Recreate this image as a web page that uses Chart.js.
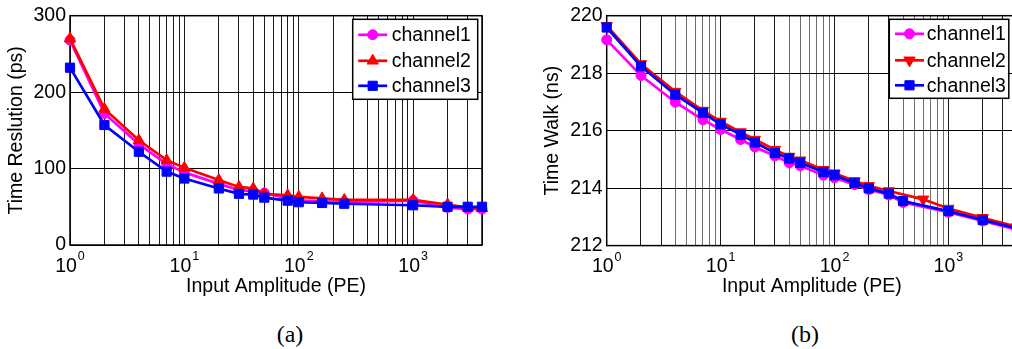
<!DOCTYPE html>
<html><head><meta charset="utf-8">
<script src="https://cdn.jsdelivr.net/npm/chart.js@4.4.0/dist/chart.umd.min.js"></script>
<style>
html,body{margin:0;padding:0;background:#fff;overflow:hidden;width:1012px;height:349px;}
#wrap{position:relative;width:1012px;height:349px;overflow:hidden;background:#fff;}
canvas{position:absolute;top:0;}
.lab{position:absolute;font-family:'Liberation Serif','Times New Roman',serif;font-size:24px;color:#000;transform:translate(-50%,-50%);white-space:nowrap;}
</style></head><body>
<div id="wrap">
<canvas id="ca" width="506" height="300" style="left:0;width:506px;height:300px"></canvas>
<canvas id="cb" width="500" height="300" style="left:530px;width:500px;height:300px"></canvas>
<div class="lab" style="left:290px;top:334px">(a)</div>
<div class="lab" style="left:805px;top:334px">(b)</div>
</div>
<script>
// ---- data: panel (a) time resolution ----
const xA = [1, 2, 4, 7, 10, 20, 30, 40, 50, 80, 100, 160, 250, 1000, 2000, 3000, 4000];
const resCh1 = [268, 172, 132, 106, 95, 80, 72, 70, 68, 61, 58, 57, 56, 58, 49, 47, 47];
const resCh2 = [270, 178, 137, 111, 101, 85, 76, 74, 67, 65, 63, 61, 59, 59, 53, 49, 48];
const resCh3 = [232, 157, 122, 96, 87, 74, 67, 66, 62, 58, 56, 55, 54, 52, 50, 50, 50];

// ---- data: panel (b) time walk ----
const xB13 = [1, 2, 4, 7, 10, 15, 20, 30, 40, 50, 80, 100, 150, 200, 300, 400, 1000, 2000, 4000];
const xB2  = [1, 2, 4, 7, 10, 15, 20, 30, 40, 50, 80, 100, 150, 200, 300, 600, 1000, 2000, 4000];
const walkCh1 = [219.16, 217.92, 216.99, 216.38, 216.04, 215.69, 215.43, 215.12, 214.88, 214.78, 214.45, 214.36, 214.12, 213.95, 213.76, 213.50, 213.16, 212.86, 212.55];
const walkCh2 = [219.65, 218.32, 217.36, 216.70, 216.32, 215.95, 215.69, 215.34, 215.10, 214.97, 214.64, 214.52, 214.25, 214.08, 213.90, 213.61, 213.29, 212.97, 212.65];
const walkCh3 = [219.59, 218.24, 217.25, 216.62, 216.22, 215.86, 215.59, 215.22, 215.03, 214.88, 214.56, 214.45, 214.18, 213.99, 213.81, 213.55, 213.20, 212.89, 212.60];

// ---- tick labels ----
const xTickValues = [1,2,3,4,5,6,7,8,9,10,20,30,40,50,60,70,80,90,100,200,300,400,500,600,700,800,900,1000,2000,3000,4000];
const xTickPowers = [0, 1, 2, 3];
const seriesNames = ['channel1', 'channel2', 'channel3'];

const FONT = "'Liberation Sans', Arial, Helvetica, sans-serif";
const FS = 19.5;

function pts(xs, ys) { return xs.map((x, i) => ({ x: x, y: ys[i] })); }

const framePlugin = {
  id: 'frame',
  beforeDatasetsDraw(chart) {
    const { ctx, chartArea: a } = chart;
    ctx.save();
    ctx.strokeStyle = '#000';
    ctx.lineWidth = 1.5;
    ctx.strokeRect(a.left, a.top, a.right - a.left, a.bottom - a.top);
    ctx.restore();
  },
  afterDraw(chart, args, opts) {
    const ctx = chart.ctx, xs = chart.scales.x, a = chart.chartArea;
    ctx.save();
    ctx.fillStyle = '#000';
    ctx.textBaseline = 'alphabetic';
    ctx.textAlign = 'left';
    xTickPowers.forEach(p => {
      const px = xs.getPixelForValue(Math.pow(10, p));
      ctx.font = FS + 'px ' + FONT; const w1 = ctx.measureText('10').width;
      ctx.font = '12.5px ' + FONT; const w2 = ctx.measureText(String(p)).width;
      const start = px - (w1 + w2 + 1) / 2;
      ctx.font = FS + 'px ' + FONT; ctx.fillText('10', start, a.bottom + 26.7);
      ctx.font = '12.5px ' + FONT; ctx.fillText(String(p), start + w1 + 1, a.bottom + 15);
    });
    // legend box
    const L = opts.legend;
    const bx = L.left, by = L.top;
    ctx.fillStyle = '#fff';
    ctx.fillRect(bx, by, L.w, L.h);
    ctx.strokeStyle = '#000';
    ctx.lineWidth = 1.5;
    ctx.strokeRect(bx, by, L.w, L.h);
    chart.data.datasets.forEach((ds, i) => {
      const y = by + L.rows[i];
      ctx.strokeStyle = ds.borderColor;
      ctx.fillStyle = ds.backgroundColor;
      ctx.lineWidth = ds.borderWidth;
      ctx.beginPath();
      ctx.moveTo(bx + L.x0, y);
      ctx.lineTo(bx + L.x1, y);
      ctx.stroke();
      ctx.lineWidth = 1;
      Chart.helpers.drawPoint(ctx, { pointStyle: ds.pointStyle, rotation: ds.pointRotation || 0, radius: ds.pointRadius, borderWidth: 1 }, bx + (L.x0 + L.x1) / 2, y);
      ctx.fillStyle = '#000';
      ctx.font = FS + 'px ' + FONT;
      ctx.textBaseline = 'middle';
      ctx.fillText(ds.label, bx + L.tx, y + 1);
    });
    ctx.restore();
  }
};

function mkDs(label, data, color, style, radius, rot, order) {
  return {
    label: label, data: data, borderColor: color, backgroundColor: color,
    pointStyle: style, pointRadius: radius, pointRotation: rot, pointBorderWidth: 1,
    pointBackgroundColor: color, pointBorderColor: color,
    borderWidth: 2.7, tension: 0, order: order, clip: false, showLine: true
  };
}

function makeChart(id, p) {
  return new Chart(document.getElementById(id), {
    type: 'line',
    data: { datasets: p.datasets },
    plugins: [framePlugin],
    options: {
      responsive: false, animation: false, devicePixelRatio: 1,
      layout: { padding: { left: 0, right: p.padRight, top: 15, bottom: 0 } },
      plugins: { legend: { display: false }, tooltip: { enabled: false }, frame: { legend: p.legend } },
      scales: {
        x: {
          type: 'logarithmic', min: 1, max: 4000,
          afterBuildTicks: (s) => { s.ticks = xTickValues.map(v => ({ value: v })); },
          afterFit: (s) => { s.height = p.xAxisH; },
          ticks: { display: false },
          border: { display: false },
          grid: { color: p.xGridColor, lineWidth: 1, drawTicks: false },
          title: { display: true, text: 'Input Amplitude (PE)', color: '#000', font: { family: FONT, size: FS }, padding: { top: 0, bottom: 1.6 } }
        },
        y: {
          type: 'linear', min: p.yMin, max: p.yMax,
          afterFit: (s) => { s.width = p.yAxisW; },
          ticks: { stepSize: p.yStep, color: '#000', font: { family: FONT, size: FS }, padding: 4 },
          border: { display: false },
          grid: { color: '#000', lineWidth: 1, drawTicks: false },
          title: { display: true, text: p.yTitle, color: '#000', font: { family: FONT, size: FS }, padding: { top: p.yTitlePad, bottom: 0 } }
        }
      }
    }
  });
}

const mant = (v) => Math.round(v / Math.pow(10, Math.floor(Math.log10(v) + 1e-9)));

makeChart('ca', {
  padRight: 24, xAxisH: 55, yAxisW: 70, yMin: 0, yMax: 300, yStep: 100,
  yTitle: 'Time Reslution (ps)', yTitlePad: 5.3,
  xGridColor: '#1a1a1a',
  legend: { left: 352.7, top: 19.3, w: 125, h: 80, rows: [15.5, 41.5, 66.5], x0: 5.5, x1: 34.5, tx: 39 },
  datasets: [
    mkDs(seriesNames[0], pts(xA, resCh1), '#ff00ff', 'circle', 5, 0, 3),
    mkDs(seriesNames[1], pts(xA, resCh2), '#ff0000', 'triangle', 6.5, 0, 2),
    mkDs(seriesNames[2], pts(xA, resCh3), '#0000ff', 'rect', 6.5, 0, 1)
  ]
});

makeChart('cb', {
  padRight: 13, xAxisH: 54.4, yAxisW: 76.7, yMin: 212, yMax: 220, yStep: 2,
  yTitle: 'Time Walk (ns)', yTitlePad: 11.3,
  xGridColor: (c) => { const v = c.tick ? c.tick.value : 1; const m = mant(v); return (m === 1 || m === 2 || m === 3 || m === 10) ? '#1a1a1a' : '#6e6e6e'; },
  legend: { left: 889.3 - 530, top: 19.3, w: 119.5, h: 79, rows: [14.5, 41, 66], x0: 5.7, x1: 34.7, tx: 37.5 },
  datasets: [
    mkDs(seriesNames[0], pts(xB13, walkCh1), '#ff00ff', 'circle', 5, 0, 3),
    mkDs(seriesNames[1], pts(xB2, walkCh2), '#ff0000', 'triangle', 6.5, 180, 2),
    mkDs(seriesNames[2], pts(xB13, walkCh3), '#0000ff', 'rect', 6.5, 0, 1)
  ]
});
</script>
</body></html>
